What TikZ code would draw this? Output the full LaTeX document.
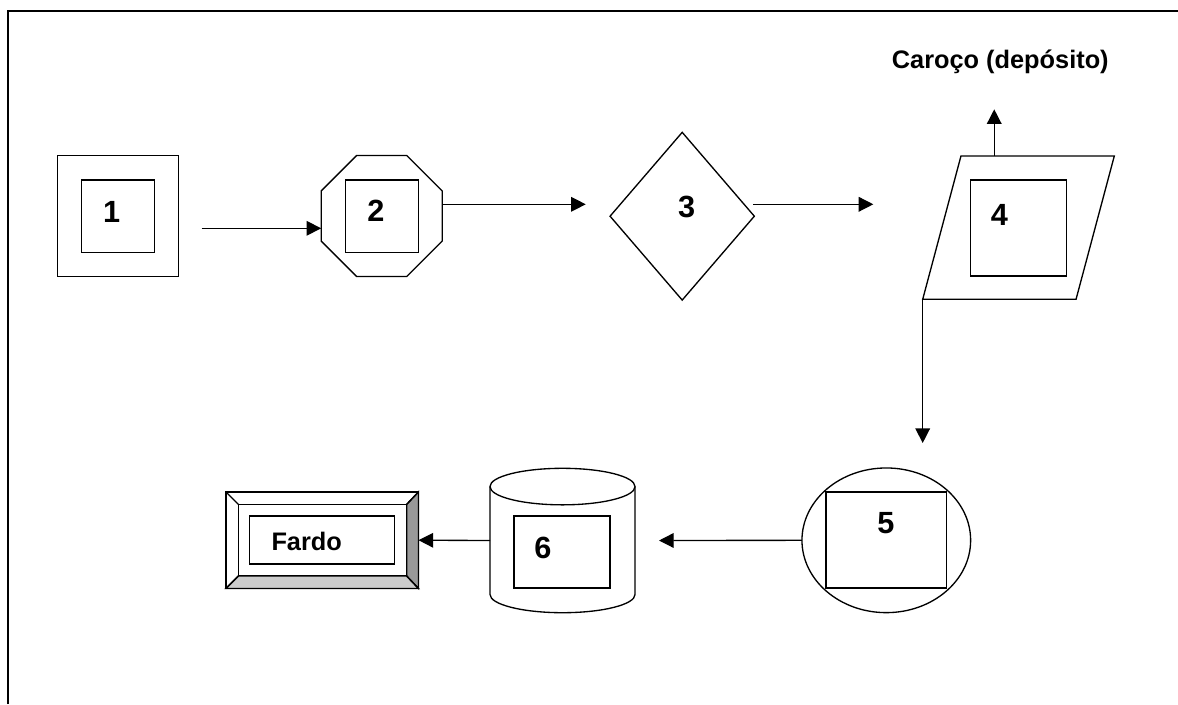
\documentclass[tikz,border=0pt]{standalone}
\usepackage{fontspec}
\setmainfont{Liberation Sans}
\usetikzlibrary{arrows.meta,shapes.geometric,calc}

\begin{document}
\begin{tikzpicture}[
  x=0.75pt, y=-0.75pt, line width=1pt,
  box/.style  ={draw, rectangle, inner sep=0pt, outer sep=0pt},
  hull/.style ={box, draw=none},
  octa/.style ={draw, regular polygon, regular polygon sides=8,
                inner sep=0pt, outer sep=0pt, minimum size=98.2pt},
  dia/.style  ={draw, diamond, inner sep=0pt, outer sep=0pt},
  ell/.style  ={draw, ellipse, inner sep=0pt, outer sep=0pt},
  num/.style  ={font=\fontsize{23}{27}\selectfont\bfseries, inner sep=0pt},
  lab/.style  ={font=\fontsize{19}{23}\selectfont\bfseries, inner sep=0pt},
  fl/.style   ={-{Triangle[length=11pt,width=11pt]}}]

\useasboundingbox (0,0) rectangle (1178,704);
\draw[line width=1.5pt] (8.3,704) -- (8.3,11) -- (1178,11);

\node[box, minimum width=90.75pt, minimum height=90.45pt] (one) at (118.2,216) {};
\node[box, minimum width=54.5pt, minimum height=54.2pt] (in1) at (118,216.1) {};
\node[num] (l1) at (111.7,211.7) {1};

\node[octa] (two) at (381.7,216) {};
\node[box, minimum width=54.5pt, minimum height=54.2pt] (in2) at (382,216.2) {};
\node[num] (l2) at (376,211) {2};

\node[dia, minimum width=108.2pt, minimum height=125.8pt] (three) at (682.2,216.2) {};
\node[num] (l3) at (686.7,206.7) {3};

\node[hull, minimum width=143.7pt, minimum height=107.5pt] (four) at (1018.5,227.65) {};
\draw ([xshift=28.7pt]four.north west) -- (four.north east)
  -- ([xshift=-28.7pt]four.south east) -- (four.south west) -- cycle;
\node[box, minimum width=72.3pt, minimum height=72pt] (in4) at (1018.5,228) {};
\node[num] (l4) at (999.3,215) {4};
\node[lab] (car) at (1000.3,62) {Caroço (depósito)};

\node[ell, minimum width=126.5pt, minimum height=108.5pt] (five) at (886.3,540.3) {};
\node[box, minimum width=90.5pt, minimum height=72pt] (in5) at (886.3,540) {};
\node[num] (l5) at (886,523) {5};

\node[hull, minimum width=108.75pt, minimum height=108.3pt] (six) at (562.5,540.5) {};
\draw ([yshift=-13.7pt]six.north) ellipse [x radius=54.4pt, y radius=13.7pt];
\draw ([yshift=-13.7pt]six.north west) -- ([yshift=13.7pt]six.south west)
  arc [start angle=180, end angle=360, x radius=54.4pt, y radius=13.7pt]
  -- ([yshift=-13.7pt]six.north east);
\node[box, minimum width=72pt, minimum height=54pt] (in6) at (562,552) {};
\node[num] (l6) at (543,548) {6};

\node[box, minimum width=144.5pt, minimum height=72.5pt] (fardo) at (322.2,540.2) {};
\node[box, minimum width=126.3pt, minimum height=53.8pt] (bev) at (322.5,540.2) {};
\filldraw[fill=black!40] (fardo.north east) -- (fardo.south east)
  -- (bev.south east) -- (bev.north east) -- cycle;
\filldraw[fill=black!20] (fardo.south west) -- (fardo.south east)
  -- (bev.south east) -- (bev.south west) -- cycle;
\foreach \c in {north west, north east, south west, south east}
  \draw (fardo.\c) -- (bev.\c);
\node[box, minimum width=108.5pt, minimum height=36pt] (in7) at (322,540) {};
\node[lab] (lf) at (306.7,541.7) {Fardo};

\draw[fl] ($(one.east)+(23,12.3)$) -- ($(two.west)+(0,12.3)$);
\draw[fl] ($(two.east)+(0,-11.7)$) -- ($(three.west)+(-24.3,-11.9)$);
\draw[fl] ($(three.east)+(-1,-11.9)$) -- ++(120,0);
\draw[fl] ([xshift=-18.2pt]four.north) -- ++(0,-46.7);
\draw[fl] (four.south west) -- ++(0,143.7);
\draw[fl] (five.west) -- ($(six.east)+(24,0)$);
\draw[fl] (six.west) -- (fardo.east);
\end{tikzpicture}
\end{document}
